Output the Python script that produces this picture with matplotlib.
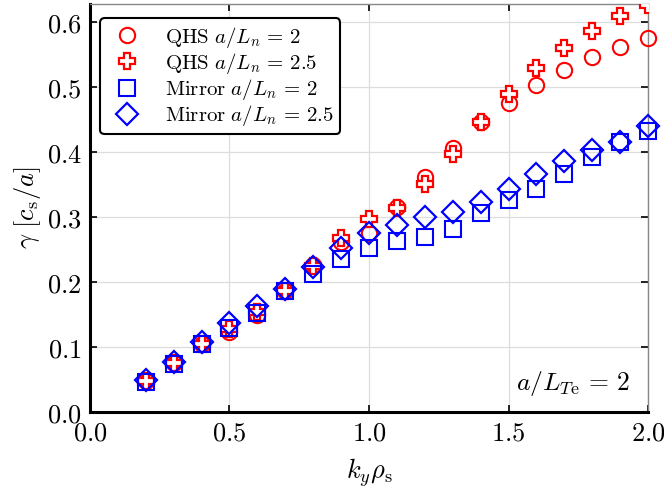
import numpy as np
import matplotlib
matplotlib.use('Agg')
import matplotlib.pyplot as plt
from matplotlib.ticker import FuncFormatter

plt.rcParams['mathtext.fontset'] = 'cm'
plt.rcParams['font.family'] = 'serif'
plt.rcParams['font.serif'] = ['DejaVu Serif']

ky = [0.2, 0.3, 0.4, 0.5, 0.6, 0.7, 0.8, 0.9, 1.0, 1.1,
      1.2, 1.3, 1.4, 1.5, 1.6, 1.7, 1.8, 1.9, 2.0]
qhs_2 = [0.047, 0.075, 0.104, 0.123, 0.149, 0.187, 0.226, 0.262, 0.275, 0.316,
         0.362, 0.406, 0.446, 0.476, 0.503, 0.526, 0.546, 0.562, 0.576]
qhs_25 = [0.047, 0.075, 0.104, 0.127, 0.154, 0.187, 0.225, 0.268, 0.297, 0.314,
          0.351, 0.397, 0.446, 0.490, 0.529, 0.560, 0.586, 0.609, 0.626]
mirror_2 = [0.046, 0.074, 0.105, 0.129, 0.152, 0.186, 0.212, 0.235, 0.252, 0.263,
            0.270, 0.281, 0.307, 0.327, 0.344, 0.367, 0.393, 0.415, 0.432]
mirror_25 = [0.049, 0.077, 0.108, 0.137, 0.163, 0.189, 0.223, 0.252, 0.275, 0.288,
             0.300, 0.308, 0.323, 0.344, 0.367, 0.386, 0.403, 0.416, 0.440]

fig = plt.figure(figsize=(6.64, 4.97), dpi=100)
ax = fig.add_axes([0.1355, 0.171, 0.8405, 0.821])

ax.grid(True, color='#dddddd', lw=0.9, zorder=0)
ax.plot(ky, qhs_2, 'o', ms=11, mfc='none', mec='red', mew=1.5, ls='none',
        label=r'$\mathrm{QHS}\ a/L_n \,=\, 2$', clip_on=False, zorder=3)
ax.plot(ky, qhs_25, 'P', ms=12, mfc='white', mec='red', mew=1.6, ls='none',
        label=r'$\mathrm{QHS}\ a/L_n \,=\, 2.5$', clip_on=True, zorder=3)
ax.plot(ky, mirror_2, 's', ms=11, mfc='none', mec='blue', mew=1.5, ls='none',
        label=r'$\mathrm{Mirror}\ a/L_n \,=\, 2$', clip_on=False, zorder=4)
ax.plot(ky, mirror_25, 'D', ms=11, mfc='none', mec='blue', mew=1.6, ls='none',
        label=r'$\mathrm{Mirror}\ a/L_n \,=\, 2.5$', clip_on=False, zorder=4)

ax.set_xlim(0, 2.0)
ax.set_ylim(0, 0.628)
ax.set_xticks([0.0, 0.5, 1.0, 1.5, 2.0])
ax.set_yticks([0.0, 0.1, 0.2, 0.3, 0.4, 0.5, 0.6])
fmt = FuncFormatter(lambda v, p: r'$%.1f$' % v)
ax.xaxis.set_major_formatter(fmt)
ax.yaxis.set_major_formatter(fmt)
ax.tick_params(direction='in', length=5, width=1.2, labelsize=19,
               top=True, right=True, pad=6)

for s in ['left', 'bottom']:
    ax.spines[s].set_linewidth(2.2)
    ax.spines[s].set_color('black')
for s in ['top', 'right']:
    ax.spines[s].set_linewidth(1.0)
    ax.spines[s].set_color('#888888')

ax.set_xlabel(r'$k_y\rho_{\mathrm{s}}$', fontsize=19, labelpad=8)
ax.set_ylabel(r'$\gamma\ [c_{\mathrm{s}}/a]$', fontsize=19, labelpad=3)

ax.text(0.968, 0.07, r'$a/L_{T\mathrm{e}} \,=\, 2$', transform=ax.transAxes,
        ha='right', va='center', fontsize=18.5)

leg = ax.legend(loc='upper left', fontsize=15, frameon=True, fancybox=True,
                edgecolor='black', framealpha=1, borderpad=0.3,
                handletextpad=0.8, labelspacing=0.05,
                bbox_to_anchor=(0.0, 0.99))
leg.get_frame().set_linewidth(1.5)

fig.savefig('out.png', dpi=100)
